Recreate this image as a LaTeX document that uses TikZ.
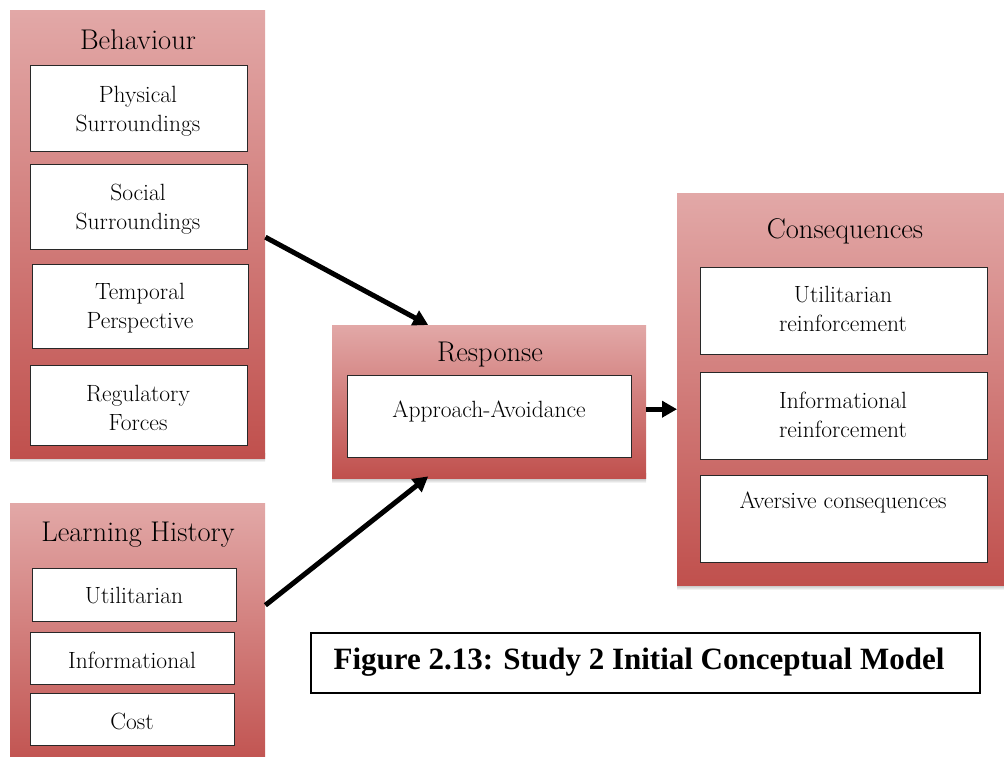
\documentclass[tikz,border=0pt]{standalone}
\usepackage{fontspec}
\newfontfamily\capfont{Liberation Serif}
\usetikzlibrary{arrows.meta}
\definecolor{paneltop}{RGB}{226,168,167}
\definecolor{panelbot}{RGB}{192,80,77}
\definecolor{shade}{RGB}{205,205,205}
\definecolor{edge}{RGB}{40,40,40}
\tikzset{
  panel/.style={top color=paneltop, bottom color=panelbot, draw=none,
    anchor=north west, inner sep=0pt},
  itembox/.style={fill=white, draw=edge, line width=1.1pt, anchor=north west,
    inner sep=0pt},
  itemtext/.style={align=center, inner sep=0pt, font=\fontsize{23.5}{29}\selectfont},
  paneltitle/.style={inner sep=0pt, font=\fontsize{28.5}{34}\selectfont},
  flow/.style={line width=5pt, -{Triangle[length=15pt,width=16pt]}},
}
\begin{document}
\begin{tikzpicture}[x=1pt,y=-1pt]
\useasboundingbox (0,0) rectangle (1004,756);
\begin{scope}
\clip (0,0) rectangle (1004,756);

% Behaviour panel
\fill[shade] (10,453) rectangle (265,462);
\node[panel, minimum width=255pt, minimum height=448pt] (beh) at (10,10) {};
\node[paneltitle] (behT) at (138,40) {Behaviour};
\node[itembox, minimum width=217pt, minimum height=86pt] (phys) at (30,65) {};
\node[itemtext] (physT) at (138,111) {Physical\\Surroundings};
\node[itembox, minimum width=217pt, minimum height=85pt] (soc) at (30,164) {};
\node[itemtext] (socT) at (138,209) {Social\\Surroundings};
\node[itembox, minimum width=216pt, minimum height=84pt] (temp) at (32,264) {};
\node[itemtext] (tempT) at (140,308) {Temporal\\Perspective};
\node[itembox, minimum width=217pt, minimum height=80pt] (reg) at (30,365) {};
\node[itemtext] (regT) at (138,408) {Regulatory\\Forces};

% Learning history panel
\node[panel, minimum width=255pt, minimum height=270pt] (lh) at (10,503) {};
\node[paneltitle] (lhT) at (138,535) {Learning History};
\node[itembox, minimum width=204pt, minimum height=53pt] (util) at (32,568) {};
\node[itemtext] (utilT) at (134,596) {Utilitarian};
\node[itembox, minimum width=204pt, minimum height=52pt] (info) at (30,632) {};
\node[itemtext] (infoT) at (132,660) {Informational};
\node[itembox, minimum width=204pt, minimum height=52pt] (cost) at (30,693) {};
\node[itemtext] (costT) at (132,721) {Cost};

% Response panel
\fill[shade] (332,473) rectangle (646,483);
\node[panel, minimum width=314pt, minimum height=153pt] (resp) at (332,325) {};
\node[paneltitle] (respT) at (490,355) {Response};
\node[itembox, minimum width=284pt, minimum height=82pt] (appr) at (347,375) {};
\node[itemtext] (apprT) at (489,411) {Approach-Avoidance};

% Consequences panel
\fill[shade] (677,580) rectangle (1004,590);
\node[panel, minimum width=327pt, minimum height=392pt] (cons) at (677,193) {};
\node[paneltitle] (consT) at (845,231) {Consequences};
\node[itembox, minimum width=287pt, minimum height=87pt] (ureinf) at (700,267) {};
\node[itemtext] (ureinfT) at (843,309) {Utilitarian\\reinforcement};
\node[itembox, minimum width=287pt, minimum height=87pt] (ireinf) at (700,372) {};
\node[itemtext] (ireinfT) at (843,415) {Informational\\reinforcement};
\node[itembox, minimum width=287pt, minimum height=87pt] (avers) at (700,475) {};
\node[itemtext] (aversT) at (843,502) {Aversive consequences};

% Flows into and out of the response
\draw[flow] ([yshift=-3pt]beh.east) -- ([xshift=-61pt]resp.north);
\draw[flow] ([yshift=33pt]lh.east) -- ([xshift=-61pt,yshift=2pt]resp.south);
\draw[flow] ([yshift=-7.5pt]resp.east) -- ([yshift=-20pt]cons.west);

% Caption
\node[draw=black, line width=1.5pt, minimum width=669pt, minimum height=60pt,
  anchor=north west, inner sep=0pt] (cap) at (310,632) {};
\node[inner sep=0pt, font=\capfont\bfseries\fontsize{31}{36}\selectfont] (capT)
  at (639,662) {Figure 2.13: Study 2 Initial Conceptual Model};
\end{scope}
\end{tikzpicture}
\end{document}
